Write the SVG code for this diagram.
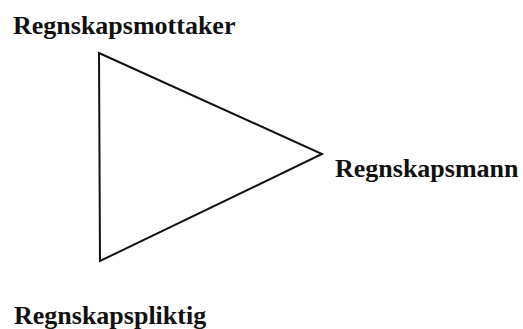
<svg xmlns="http://www.w3.org/2000/svg" width="523" height="329" viewBox="0 0 523 329">
<style>
.lbl{font-family:"Liberation Serif","Times New Roman",serif;font-weight:bold;font-size:26px;fill:#111}
.edge{fill:none;stroke:#111;stroke-width:2;stroke-linejoin:miter}
</style>
<rect width="523" height="329" fill="#fff"/>
<g id="connectors">
<path class="edge" d="M99,53 L322,154 L100,261 Z"/>
</g>
<g id="node-mottaker"><text class="lbl" x="13" y="34">Regnskapsmottaker</text></g>
<g id="node-mann"><text class="lbl" x="335" y="177">Regnskapsmann</text></g>
<g id="node-pliktig"><text class="lbl" x="14" y="324">Regnskapspliktig</text></g>
</svg>
